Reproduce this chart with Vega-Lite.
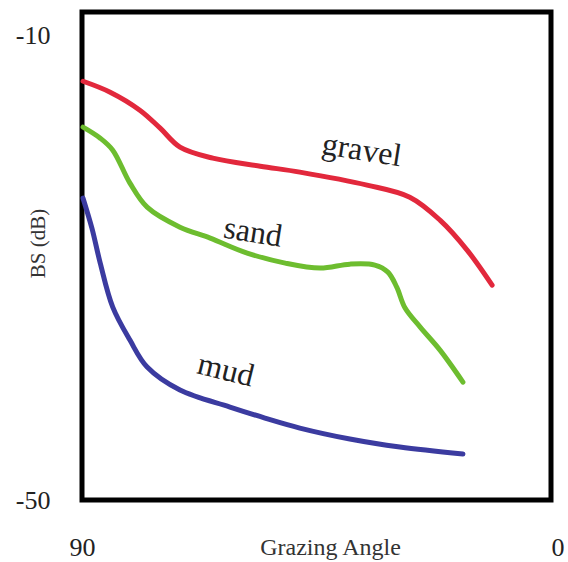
{
  "$schema": "https://vega.github.io/schema/vega-lite/v6.json",
  "autosize": "none",
  "width": 469,
  "height": 488,
  "padding": {"left": 82, "top": 12, "right": 17, "bottom": 62},
  "background": "white",
  "config": {
    "view": {"stroke": "black", "strokeWidth": 5},
    "font": "Liberation Serif"
  },
  "datasets": {
    "curves": [
      {"sediment": "gravel", "angle": 89.8, "bs": -13.96},
      {"sediment": "gravel", "angle": 84.6, "bs": -14.9},
      {"sediment": "gravel", "angle": 78.9, "bs": -16.45},
      {"sediment": "gravel", "angle": 75.0, "bs": -18.0},
      {"sediment": "gravel", "angle": 71.2, "bs": -19.63},
      {"sediment": "gravel", "angle": 64.9, "bs": -20.58},
      {"sediment": "gravel", "angle": 55.8, "bs": -21.27},
      {"sediment": "gravel", "angle": 48.2, "bs": -21.78},
      {"sediment": "gravel", "angle": 35.3, "bs": -22.9},
      {"sediment": "gravel", "angle": 27.1, "bs": -23.94},
      {"sediment": "gravel", "angle": 21.3, "bs": -25.91},
      {"sediment": "gravel", "angle": 16.1, "bs": -28.49},
      {"sediment": "gravel", "angle": 11.3, "bs": -31.51},
      {"sediment": "sand", "angle": 89.8, "bs": -17.91},
      {"sediment": "sand", "angle": 86.5, "bs": -18.86},
      {"sediment": "sand", "angle": 84.1, "bs": -19.89},
      {"sediment": "sand", "angle": 80.8, "bs": -22.73},
      {"sediment": "sand", "angle": 77.5, "bs": -24.8},
      {"sediment": "sand", "angle": 71.2, "bs": -26.52},
      {"sediment": "sand", "angle": 65.4, "bs": -27.46},
      {"sediment": "sand", "angle": 58.3, "bs": -28.75},
      {"sediment": "sand", "angle": 51.0, "bs": -29.61},
      {"sediment": "sand", "angle": 44.3, "bs": -30.04},
      {"sediment": "sand", "angle": 38.6, "bs": -29.7},
      {"sediment": "sand", "angle": 33.8, "bs": -29.78},
      {"sediment": "sand", "angle": 31.3, "bs": -30.39},
      {"sediment": "sand", "angle": 29.6, "bs": -31.68},
      {"sediment": "sand", "angle": 28.0, "bs": -33.48},
      {"sediment": "sand", "angle": 25.1, "bs": -35.12},
      {"sediment": "sand", "angle": 21.3, "bs": -37.1},
      {"sediment": "sand", "angle": 16.9, "bs": -39.85},
      {"sediment": "mud", "angle": 89.8, "bs": -24.02},
      {"sediment": "mud", "angle": 88.1, "bs": -26.6},
      {"sediment": "mud", "angle": 86.5, "bs": -29.61},
      {"sediment": "mud", "angle": 84.1, "bs": -33.4},
      {"sediment": "mud", "angle": 80.8, "bs": -36.24},
      {"sediment": "mud", "angle": 77.5, "bs": -38.56},
      {"sediment": "mud", "angle": 71.2, "bs": -40.54},
      {"sediment": "mud", "angle": 61.6, "bs": -42.0},
      {"sediment": "mud", "angle": 54.9, "bs": -42.95},
      {"sediment": "mud", "angle": 48.2, "bs": -43.81},
      {"sediment": "mud", "angle": 38.6, "bs": -44.75},
      {"sediment": "mud", "angle": 29.0, "bs": -45.44},
      {"sediment": "mud", "angle": 16.9, "bs": -46.04}
    ],
    "labels": [
      {"sediment": "gravel", "angle": 36.3, "bs": -19.89},
      {"sediment": "sand", "angle": 57.2, "bs": -26.95},
      {"sediment": "mud", "angle": 62.4, "bs": -38.82}
    ]
  },
  "encoding": {
    "x": {
      "field": "angle",
      "type": "quantitative",
      "scale": {"domain": [90, 0], "nice": false, "zero": false},
      "axis": {
        "values": [90, 0],
        "title": "Grazing Angle",
        "titleFont": "Liberation Serif",
        "titleFontStyle": "normal",
        "titleFontWeight": "normal",
        "titleFontSize": 24,
        "titleColor": "#333333",
        "titleX": 248,
        "titleY": 47,
        "titleBaseline": "middle",
        "titleAlign": "center",
        "domain": false,
        "ticks": false,
        "tickSize": 0,
        "grid": false,
        "labelFlush": false,
        "labelFont": "Liberation Serif",
        "labelFontSize": 26,
        "labelColor": "#222222",
        "labelPadding": 47,
        "labelBaseline": "middle",
        "labelAlign": {"condition": {"test": "datum.value == 0", "value": "left"}, "value": "center"}
      }
    },
    "y": {
      "field": "bs",
      "type": "quantitative",
      "scale": {"domain": [-50, -8], "nice": false, "zero": false},
      "axis": {
        "values": [-10, -50],
        "labelExpr": "'-' + abs(datum.value)",
        "title": "BS (dB)",
        "titleFont": "Liberation Serif",
        "titleFontStyle": "normal",
        "titleFontWeight": "normal",
        "titleFontSize": 21,
        "titleColor": "#333333",
        "titleX": -44,
        "titleY": 231,
        "titleAngle": -90,
        "titleBaseline": "middle",
        "titleAlign": "center",
        "domain": false,
        "ticks": false,
        "tickSize": 0,
        "grid": false,
        "labelFlush": false,
        "labelFont": "Liberation Serif",
        "labelFontSize": 26,
        "labelColor": "#222222",
        "labelPadding": 32,
        "labelBaseline": "middle"
      }
    }
  },
  "layer": [
    {
      "data": {"name": "curves"},
      "mark": {"type": "line", "interpolate": "catmull-rom", "strokeWidth": 5, "strokeCap": "round"},
      "encoding": {
        "color": {
          "field": "sediment",
          "type": "nominal",
          "scale": {"domain": ["gravel", "sand", "mud"], "range": ["#e2283c", "#6dbd2f", "#3b3ba0"]},
          "legend": null
        }
      }
    },
    {
      "data": {"name": "labels"},
      "transform": [{"filter": "datum.sediment == 'gravel'"}],
      "mark": {"type": "text", "font": "Liberation Serif", "fontSize": 32, "color": "#222222", "angle": 9, "baseline": "middle", "align": "center"},
      "encoding": {"text": {"field": "sediment"}}
    },
    {
      "data": {"name": "labels"},
      "transform": [{"filter": "datum.sediment == 'sand'"}],
      "mark": {"type": "text", "font": "Liberation Serif", "fontSize": 32, "color": "#222222", "angle": 9, "baseline": "middle", "align": "center"},
      "encoding": {"text": {"field": "sediment"}}
    },
    {
      "data": {"name": "labels"},
      "transform": [{"filter": "datum.sediment == 'mud'"}],
      "mark": {"type": "text", "font": "Liberation Serif", "fontSize": 32, "color": "#222222", "angle": 14, "baseline": "middle", "align": "center"},
      "encoding": {"text": {"field": "sediment"}}
    }
  ]
}
